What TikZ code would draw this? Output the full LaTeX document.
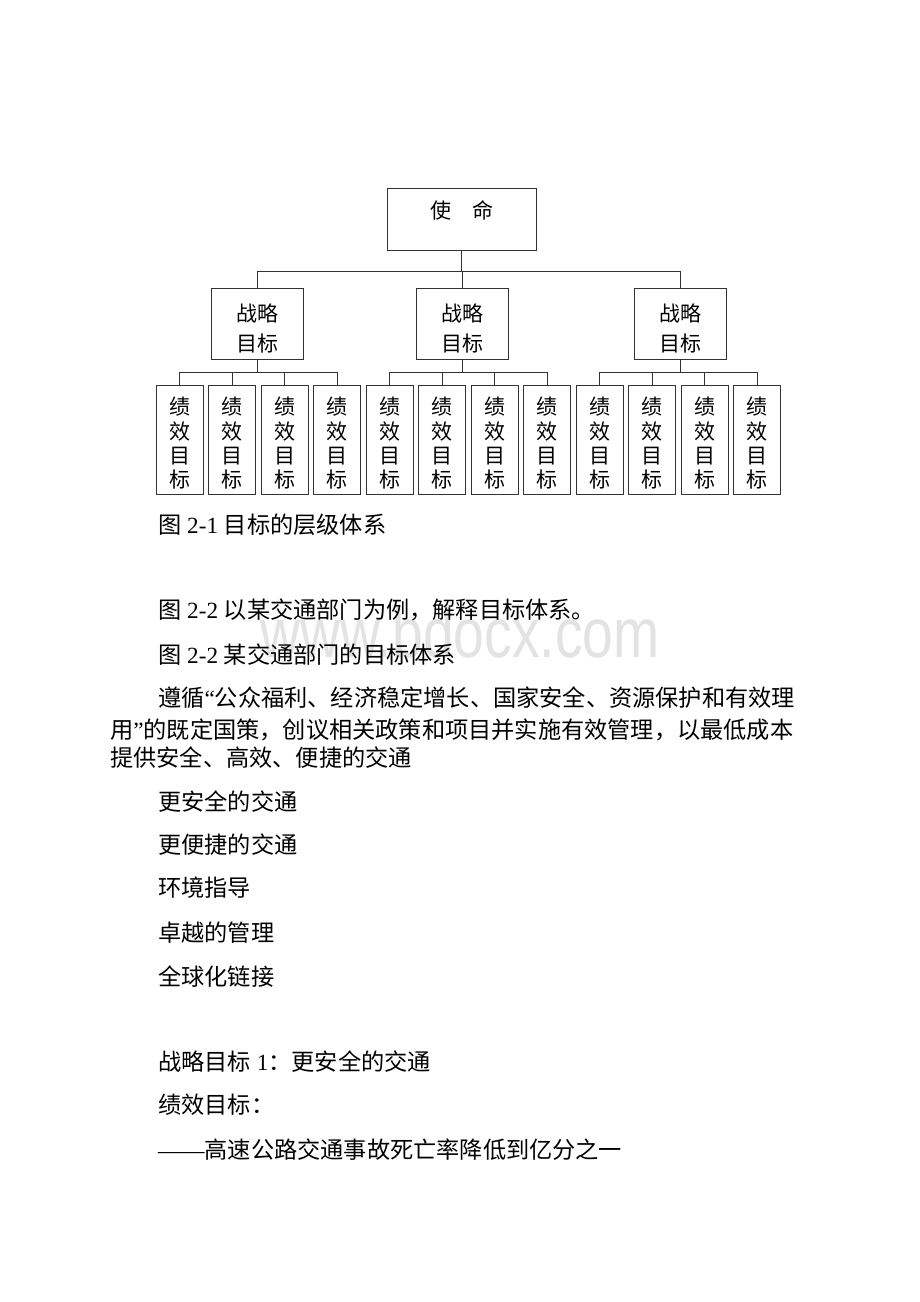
\documentclass[tikz,border=0pt]{standalone}
\usepackage{fontspec}
\setmainfont{Liberation Serif}
\newfontfamily\cjk{Noto Sans CJK SC}
\newfontfamily\wmfont{Liberation Sans}
\newcommand{\zh}[1]{{\cjk #1}}
\tikzset{
x=1pt, y=-1pt, % one unit = one pixel of the page, y runs downwards
box/.style={draw=black!80, line width=0.8pt, inner sep=0pt}, % every frame of the chart
mission/.style={box, minimum width=149, minimum height=62},
strat/.style={box, minimum width=92, minimum height=70.7},
perf/.style={box, minimum width=47.3, minimum height=109.3},
boxtext/.style={inner sep=0pt, align=center, font=\cjk\fontsize{21}{24.4}\selectfont}, % words inside the frames
link/.style={draw=black!80, line width=0.8pt}, % the tree lines
line/.style={anchor=west, inner sep=0pt, font=\fontsize{23.2}{28}\selectfont}, % body text
}

\begin{document}
\begin{tikzpicture}
\fill[white] (0,0) rectangle (920,1302);

% watermark
\node[anchor=base west, inner sep=0pt, text=black!11, font=\wmfont\fontsize{70}{70}\selectfont] (wm) at (260,657) {\scalebox{0.79}[1]{www.bdocx.com}};

% the chart
\node[mission] (m) at (461.5,219.3) {};
\node[boxtext] (mt) at ([yshift=9.3pt]m.center) {使　命};
\foreach \i/\x in {1/257.2, 2/462.8, 3/680}{
  \node[strat] (s\i) at (\x,323.7) {};
  \node[boxtext, font=\cjk\fontsize{21}{30}\selectfont] (s\i t) at ([yshift=-4.6pt]s\i.center) {战略\\目标};
}
\foreach \i in {1,...,12}{
  \node[perf] (p\i) at ({179.7+52.5*(\i-1)},439.7) {};
  \node[boxtext] (p\i t) at ([yshift=-3.7pt]p\i.center) {绩\\效\\目\\标};
}

\foreach \s in {1,2,3}
  \draw[link] (m.south) -- ++(0,20.7) -| (s\s.north);
\foreach \i in {1,...,12}{
  \pgfmathtruncatemacro\grp{int((\i-1)/4)+1}
  \draw[link] (s\grp.south) -- ++(0,12.7) -| (p\i.north);
}

% the text below
\node[line] (t1) at (158,525) {\zh{图} 2-1 \zh{目标的层级体系}};
\node[line] (t2) at (158,610) {\zh{图} 2-2 \zh{以某交通部门为例，解释目标体系。}};
\node[line] (t3) at (158,655) {\zh{图} 2-2 \zh{某交通部门的目标体系}};
\node[line] (t4) at (158,698) {\zh{遵循}“\zh{公众福利、经济稳定增长、国家安全、资源保护和有效理}};
\node[line] (t5) at (110,730) {\zh{用}”\zh{的既定国策，创议相关政策和项目并实施有效管理，以最低成本}};
\node[line] (t6) at (110,758) {\zh{提供安全、高效、便捷的交通}};
\node[line] (t7) at (158,801.7) {\zh{更安全的交通}};
\node[line] (t8) at (158,845) {\zh{更便捷的交通}};
\node[line] (t9) at (158,888) {\zh{环境指导}};
\node[line] (t10) at (158,933) {\zh{卓越的管理}};
\node[line] (t11) at (158,977) {\zh{全球化链接}};
\node[line] (t12) at (158,1061.7) {\zh{战略目标} 1\zh{：更安全的交通}};
\node[line] (t13) at (158,1105) {\zh{绩效目标：}};
\node[line] (t14) at (158,1150) {——\zh{高速公路交通事故死亡率降低到亿分之一}};
\end{tikzpicture}
\end{document}
